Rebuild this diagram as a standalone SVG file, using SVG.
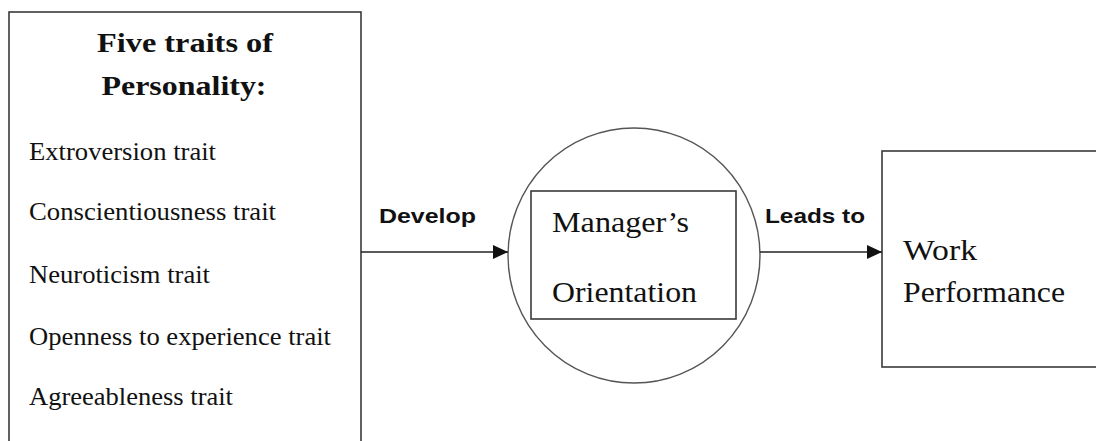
<svg xmlns="http://www.w3.org/2000/svg" width="1096" height="441" viewBox="0 0 1096 441">
<style>
.box{fill:#fff;stroke:#3a3a3a;stroke-width:1.6}
.circ{fill:#fff;stroke:#555;stroke-width:1.4}
.serif{font-family:"Liberation Serif","Times New Roman",serif;fill:#111}
.title{font-weight:bold;font-size:28px}
.item{font-size:25px}
.big{font-size:29px}
.lbl{font-family:"Liberation Sans",Arial,sans-serif;font-weight:bold;font-size:21px;fill:#111}
.conn{stroke:#222;stroke-width:1.6;fill:none}
</style>
<defs>
<marker id="arr" markerWidth="16" markerHeight="14" refX="15" refY="7" orient="auto" markerUnits="userSpaceOnUse">
<path d="M0,0 L15,7 L0,14 Z" fill="#111"/>
</marker>
</defs>
<rect width="1096" height="441" fill="#fff"/>
<g id="traits">
<rect class="box" x="9" y="12" width="352" height="440"/>
<text class="serif title" x="185" y="52" text-anchor="middle" textLength="176" lengthAdjust="spacingAndGlyphs">Five traits of</text>
<text class="serif title" x="184" y="95" text-anchor="middle" textLength="165" lengthAdjust="spacingAndGlyphs">Personality:</text>
<text class="serif item" x="29" y="160" textLength="187" lengthAdjust="spacingAndGlyphs">Extroversion trait</text>
<text class="serif item" x="29" y="220" textLength="247" lengthAdjust="spacingAndGlyphs">Conscientiousness trait</text>
<text class="serif item" x="29" y="283" textLength="181" lengthAdjust="spacingAndGlyphs">Neuroticism trait</text>
<text class="serif item" x="29" y="345" textLength="302" lengthAdjust="spacingAndGlyphs">Openness to experience trait</text>
<text class="serif item" x="29" y="405" textLength="204" lengthAdjust="spacingAndGlyphs">Agreeableness trait</text>
</g>
<g id="orientation">
<ellipse class="circ" cx="634" cy="255.5" rx="126" ry="127.5"/>
<rect class="box" x="531" y="191" width="205" height="128"/>
<text class="serif big" x="552" y="232" textLength="137" lengthAdjust="spacingAndGlyphs">Manager’s</text>
<text class="serif big" x="552" y="302" textLength="145" lengthAdjust="spacingAndGlyphs">Orientation</text>
</g>
<g id="performance">
<rect class="box" x="882" y="151" width="230" height="216"/>
<text class="serif big" x="903" y="260" textLength="74" lengthAdjust="spacingAndGlyphs">Work</text>
<text class="serif big" x="903" y="302" textLength="162" lengthAdjust="spacingAndGlyphs">Performance</text>
</g>
<g id="connectors">
<line class="conn" x1="361" y1="252" x2="508" y2="252" marker-end="url(#arr)"/>
<line class="conn" x1="760" y1="252" x2="882" y2="252" marker-end="url(#arr)"/>
<text class="lbl" x="379" y="223" textLength="97" lengthAdjust="spacingAndGlyphs">Develop</text>
<text class="lbl" x="765" y="223" textLength="100" lengthAdjust="spacingAndGlyphs">Leads to</text>
</g>
</svg>
